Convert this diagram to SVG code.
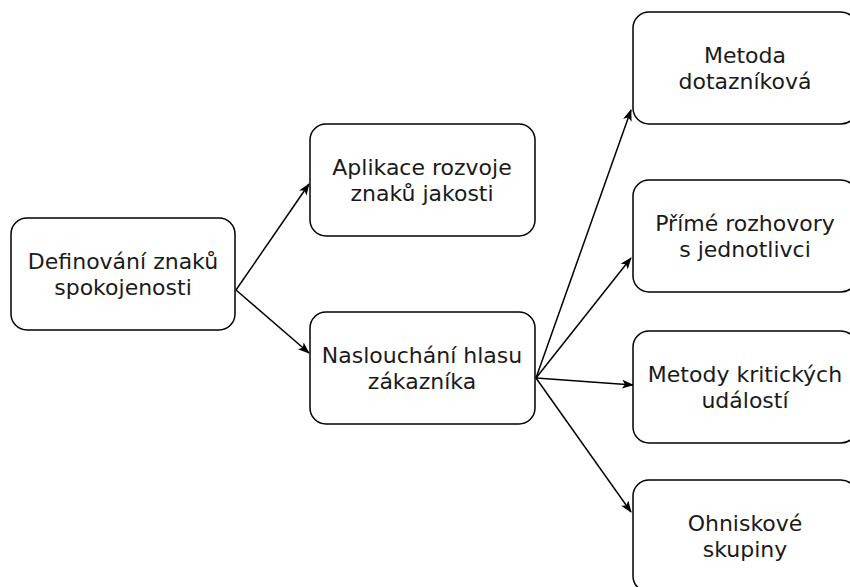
<svg xmlns="http://www.w3.org/2000/svg" width="850" height="587" viewBox="0 0 850 587">
<defs>
<style>
.box{fill:#ffffff;stroke:#000000;stroke-width:1.5}
.lbl{font-family:"DejaVu Sans",Verdana,sans-serif;font-size:22px;fill:#1a1a1a;text-anchor:middle;dominant-baseline:central}
.edge{fill:none;stroke:#000000;stroke-width:1.5}
</style>
<marker id="arr" viewBox="0 0 12 9" refX="11" refY="4.5" markerWidth="12" markerHeight="9" markerUnits="userSpaceOnUse" orient="auto">
<path d="M0,0 L12,4.5 L0,9 L3,4.5 z" fill="#000000"/>
</marker>
</defs>
<rect width="850" height="587" fill="#ffffff"/>
<g id="connectors">
<line class="edge" x1="236" y1="290" x2="309" y2="184" marker-end="url(#arr)"/>
<line class="edge" x1="236" y1="290" x2="309" y2="353" marker-end="url(#arr)"/>
<line class="edge" x1="536" y1="378" x2="631" y2="110" marker-end="url(#arr)"/>
<line class="edge" x1="536" y1="378" x2="631" y2="258" marker-end="url(#arr)"/>
<line class="edge" x1="536" y1="378" x2="633" y2="385" marker-end="url(#arr)"/>
<line class="edge" x1="536" y1="378" x2="631" y2="512" marker-end="url(#arr)"/>
</g>
<g id="n-definovani">
<rect class="box" x="11" y="218" width="224" height="112" rx="16"/>
<text class="lbl" x="123" y="261">Definování znaků</text>
<text class="lbl" x="123" y="287">spokojenosti</text>
</g>
<g id="n-aplikace">
<rect class="box" x="310" y="124" width="225" height="112" rx="16"/>
<text class="lbl" x="422" y="167">Aplikace rozvoje</text>
<text class="lbl" x="422" y="193">znaků jakosti</text>
</g>
<g id="n-naslouchani">
<rect class="box" x="310" y="312" width="225" height="112" rx="16"/>
<text class="lbl" x="422" y="355">Naslouchání hlasu</text>
<text class="lbl" x="422" y="381">zákazníka</text>
</g>
<g id="n-metoda">
<rect class="box" x="633" y="12" width="224" height="112" rx="16"/>
<text class="lbl" x="745" y="55">Metoda</text>
<text class="lbl" x="745" y="81">dotazníková</text>
</g>
<g id="n-prime">
<rect class="box" x="633" y="180" width="224" height="112" rx="16"/>
<text class="lbl" x="745" y="223">Přímé rozhovory</text>
<text class="lbl" x="745" y="249">s jednotlivci</text>
</g>
<g id="n-kriticke">
<rect class="box" x="633" y="331" width="224" height="112" rx="16"/>
<text class="lbl" x="745" y="374">Metody kritických</text>
<text class="lbl" x="745" y="400">událostí</text>
</g>
<g id="n-ohniskove">
<rect class="box" x="633" y="480" width="224" height="112" rx="16"/>
<text class="lbl" x="745" y="523">Ohniskové</text>
<text class="lbl" x="745" y="549">skupiny</text>
</g>
</svg>
